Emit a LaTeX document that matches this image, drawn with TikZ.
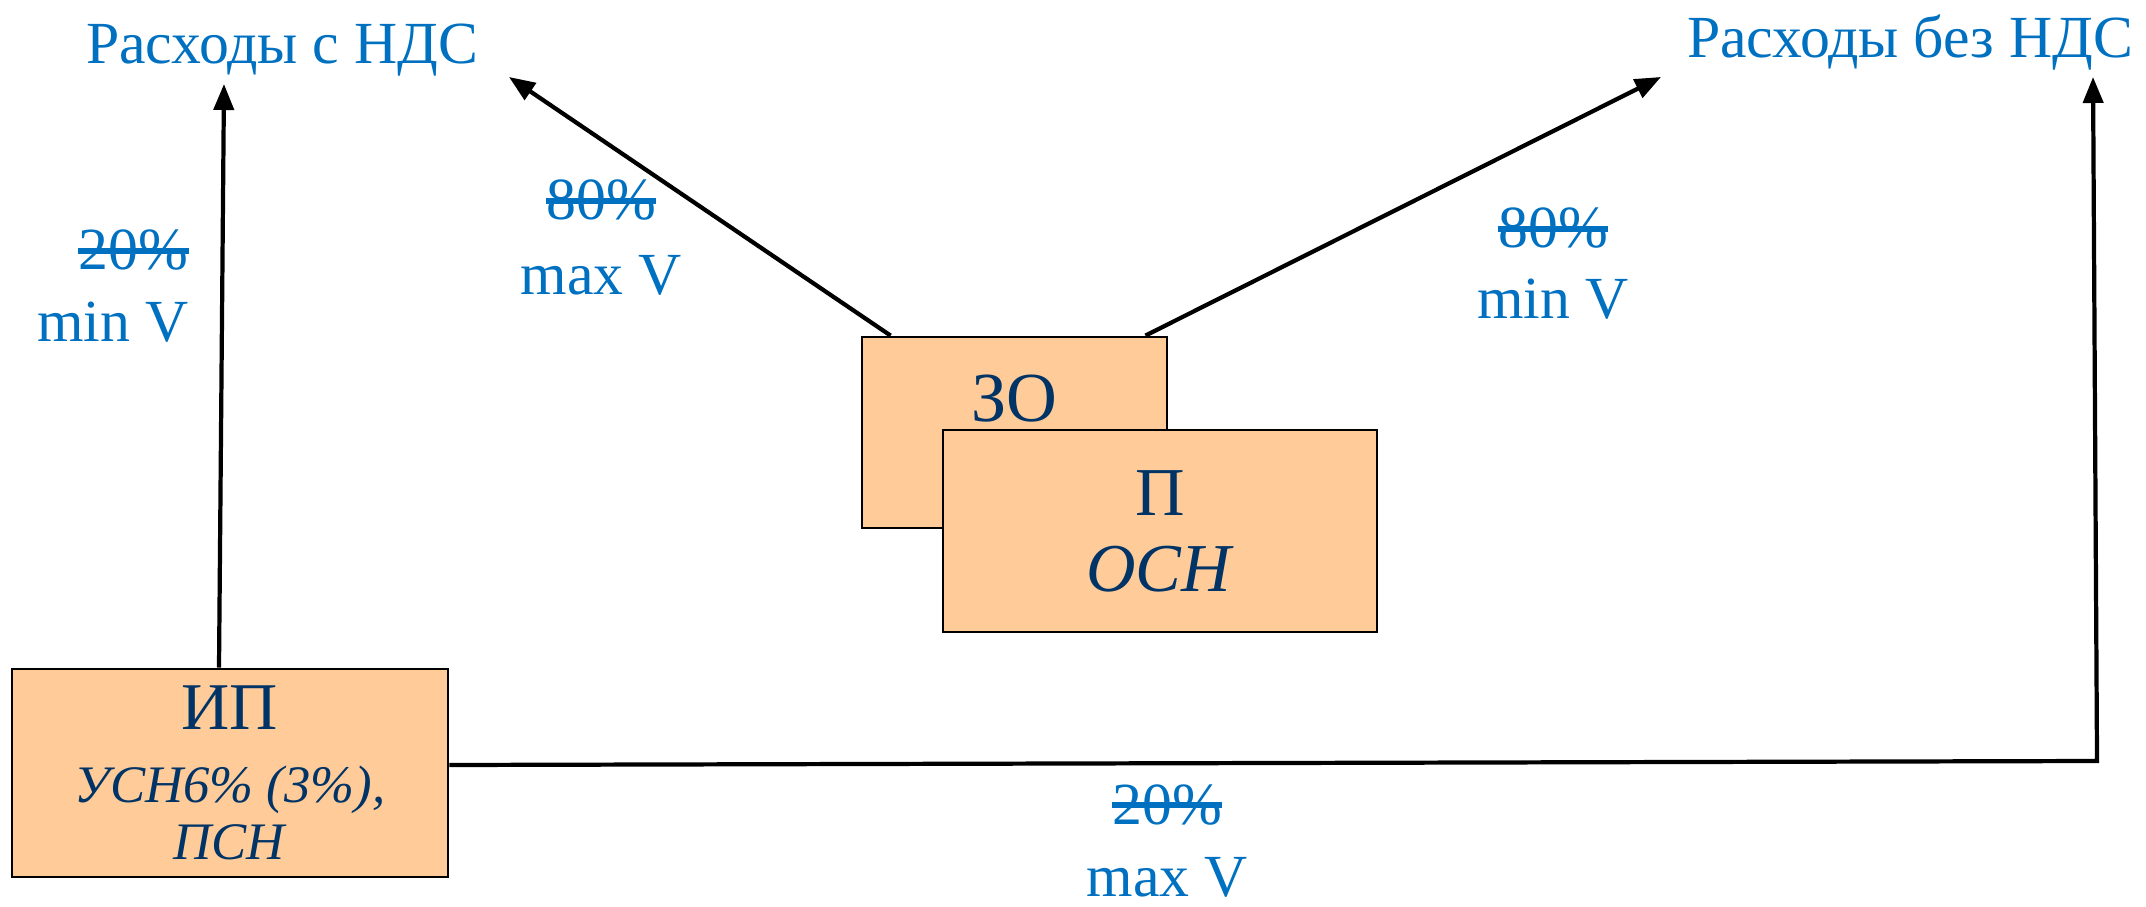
\documentclass[tikz,border=0pt]{standalone}
\usepackage{fontspec}
\setmainfont{Liberation Serif}
\usetikzlibrary{arrows.meta, positioning}

\definecolor{labelblue}{HTML}{0070C0}
\definecolor{boxtext}{HTML}{003366}
\definecolor{boxfill}{HTML}{FFCC99}

\tikzstyle{firm} = [rectangle, draw=black, line width=0.8pt, fill=boxfill, text=boxtext, align=center, inner sep=0pt]
\tikzstyle{arrow} = [line width=1.2pt, -{Triangle[length=0.26cm, width=0.2cm]}]
\tikzstyle{cost} = [text=labelblue, font=\fontsize{17}{20}\selectfont, inner sep=0pt]
\tikzstyle{share} = [text=labelblue, font=\fontsize{17}{20}\selectfont, inner sep=0pt]
\tikzstyle{strike} = [labelblue, line width=1.5pt]

\begin{document}
\begin{tikzpicture}
\useasboundingbox (0,0) rectangle (21.46,9.06);

% Nodes
\node (zo) [firm, minimum width=3.05cm, minimum height=1.91cm] at (10.145,4.735) {};
\node (zotext) [anchor=base, text=boxtext, font=\fontsize{20}{22}\selectfont] at ([yshift=-0.86cm]zo.north) {ЗО};
\node (p) [firm, minimum width=4.34cm, minimum height=2.02cm, font=\fontsize{19.5}{21.6}\selectfont] at (11.60,3.75) {П\\\textit{ОСН}};
\node (ip) [firm, minimum width=4.36cm, minimum height=2.08cm, font=\fontsize{15}{16.5}\selectfont] at (2.30,1.33) {{\fontsize{19}{19}\selectfont ИП}\\[4.2pt]\textit{УСН6\% (3\%),}\\\textit{ПСН}};

\node (costvat) [cost, anchor=base] at (2.82,8.42) {Расходы с НДС};
\node (costnovat) [cost, anchor=base] at (19.10,8.48) {Расходы без НДС};

% Arrow ends
\coordinate (tipA) at (2.24,8.22);
\coordinate (tipB) at (5.09,8.29);
\coordinate (tipC) at (16.61,8.29);
\coordinate (bend) at (20.97,1.45);
\coordinate (tipD) at (20.93,8.29);

% Arrows
\draw [arrow] ([xshift=-0.11cm]ip.north) -- (tipA);
\draw [arrow] ([xshift=0.30cm]zo.north west) -- (tipB);
\draw [arrow] ([xshift=-0.23cm]zo.north east) -- (tipC);
\draw [arrow] ([yshift=0.08cm]ip.east) -- (bend) -- (tipD);

% Shares
\node (shareA) [share, anchor=base east] at (1.89,6.36) {20\%};
\node (volA) [share, anchor=base east] at ([yshift=-0.72cm]shareA.base east) {min V};
\node (shareB) [share, anchor=base] at (6.01,6.86) {80\%};
\node (volB) [share, anchor=base] at ([yshift=-0.74cm]shareB.base) {max V};
\node (shareC) [share, anchor=base] at (15.53,6.58) {80\%};
\node (volC) [share, anchor=base] at ([yshift=-0.71cm]shareC.base) {min V};
\node (shareD) [share, anchor=base] at (11.67,0.82) {20\%};
\node (volD) [share, anchor=base] at ([yshift=-0.72cm]shareD.base) {max V};

\foreach \s in {shareA,shareB,shareC,shareD}
  \draw [strike] ([yshift=0.19cm]\s.base west) -- ([yshift=0.19cm]\s.base east);

\end{tikzpicture}
\end{document}
